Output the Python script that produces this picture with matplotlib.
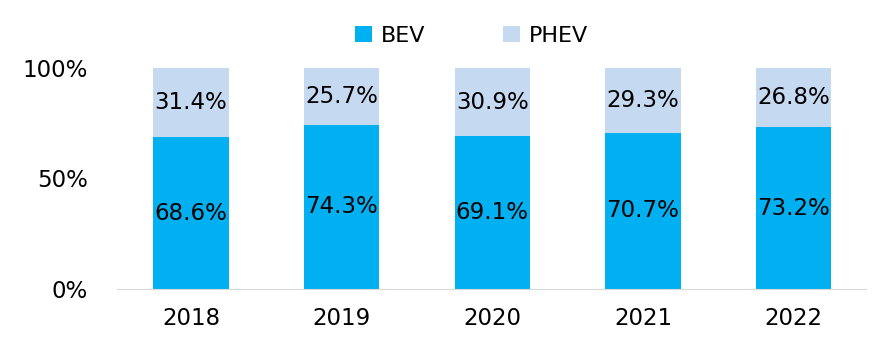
import numpy as np
import matplotlib.pyplot as plt

# data
years = ['2018', '2019', '2020', '2021', '2022']
bev = [68.6, 74.3, 69.1, 70.7, 73.2]
phev = [31.4, 25.7, 30.9, 29.3, 26.8]

plt.rcParams['font.family'] = ['DejaVu Sans']

fig = plt.figure(figsize=(8.81, 3.57), dpi=100)
ax = fig.add_axes([0.133, 0.19, 0.85, 0.62])

x = np.arange(len(years))
b1 = ax.bar(x, bev, width=0.5, color='#00B0F0', label='BEV')
b2 = ax.bar(x, phev, width=0.5, bottom=bev, color='#C5D9F1', label='PHEV')

for i in range(len(years)):
    ax.text(x[i], bev[i] / 2, f'{bev[i]:.1f}%', ha='center', va='center', fontsize=16.5)
    ax.text(x[i], bev[i] + phev[i] / 2, f'{phev[i]:.1f}%', ha='center', va='center', fontsize=16.5)

ax.set_xlim(-0.49, 4.48)
ax.set_ylim(0, 100)
ax.set_yticks([0, 50, 100])
ax.set_yticklabels(['0%', '50%', '100%'])
ax.set_xticks(x)
ax.set_xticklabels(years)
ax.tick_params(axis='both', length=0, labelsize=16.5)
ax.tick_params(axis='x', pad=13)
ax.tick_params(axis='y', pad=21)
for s in ['top', 'right', 'left']:
    ax.spines[s].set_visible(False)
ax.spines['bottom'].set_color('#D9D9D9')

fig.legend(handles=[b1, b2], loc='center', bbox_to_anchor=(0.535, 0.9), ncol=2,
           frameon=False, fontsize=16, handlelength=0.75, handleheight=0.75,
           columnspacing=3.5, handletextpad=0.4)

fig.savefig('out.png')
